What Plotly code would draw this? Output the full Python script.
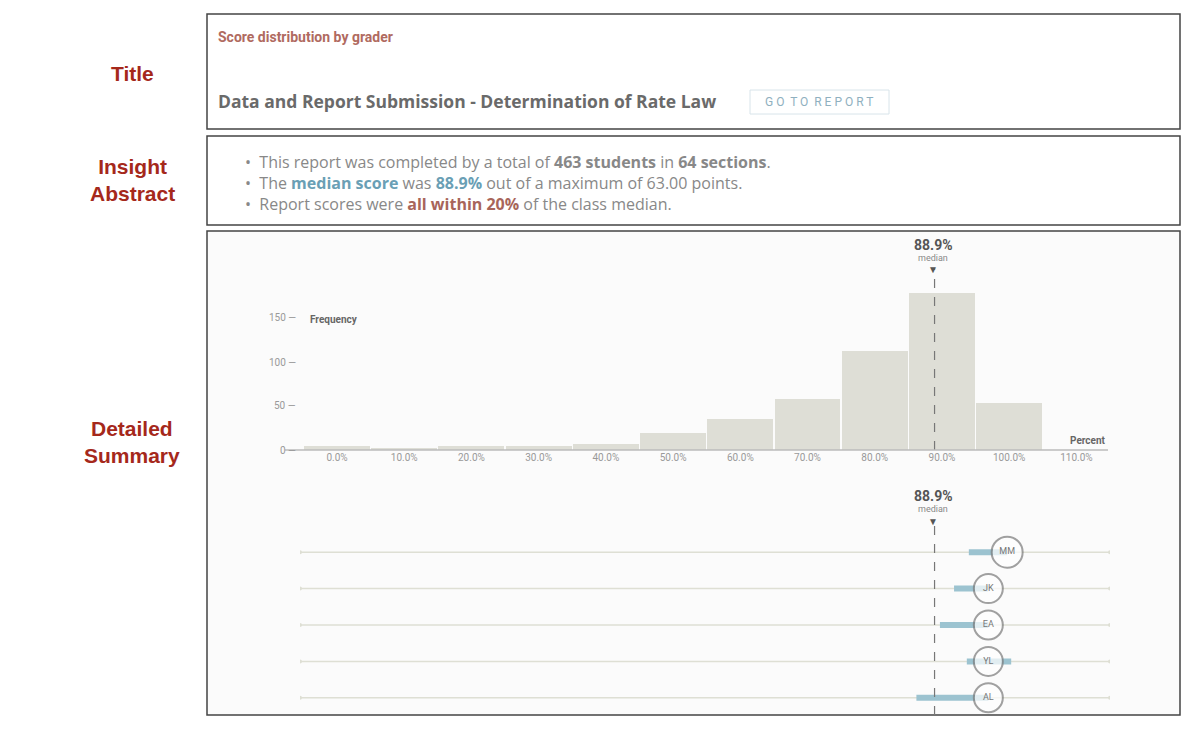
import plotly.graph_objects as go

W, H = 1202, 740
bin_centers = [0, 10, 20, 30, 40, 50, 60, 70, 80, 90, 100]
frequencies = [5, 2, 4, 4, 7, 19, 35, 58, 112, 178, 53]
tick_vals = [0, 10, 20, 30, 40, 50, 60, 70, 80, 90, 100, 110]
tick_text = ["0.0%", "10.0%", "20.0%", "30.0%", "40.0%", "50.0%", "60.0%", "70.0%", "80.0%", "90.0%", "100.0%", "110.0%"]
median = 88.9
graders = ["MM", "JK", "EA", "YL", "AL"]
grader_score = [99.7, 96.9, 96.9, 96.9, 96.9]
grader_low = [94.0, 91.8, 89.7, 93.7, 86.2]
grader_high = [99.7, 96.9, 96.9, 100.3, 96.9]
XR = [-5.5, 115]

OFF = 8
def px(x): return (x - OFF) / W
def py(y): return 1 - (y - OFF) / H

fig = go.Figure()
fig.add_trace(go.Bar(x=bin_centers, y=frequencies, width=9.8, marker=dict(color="#deded6", line=dict(width=0)),
                     xaxis="x", yaxis="y", showlegend=False, hoverinfo="skip"))
for i, g in enumerate(graders):
    fig.add_trace(go.Scatter(x=XR, y=[i, i], mode="lines+markers", line=dict(color="#dedfd4", width=1.5),
                             marker=dict(size=4, color="#dedfd4"), xaxis="x2", yaxis="y2", showlegend=False, hoverinfo="skip"))
    fig.add_trace(go.Scatter(x=[grader_low[i], grader_high[i]], y=[i, i], mode="lines", line=dict(color="#9cc3d0", width=6),
                             xaxis="x2", yaxis="y2", showlegend=False, hoverinfo="skip"))
fig.add_trace(go.Scatter(x=grader_score, y=list(range(len(graders))), mode="markers+text", text=graders,
                         marker=dict(size=[31, 29, 29, 29, 29], color="white", line=dict(color="#7a7a7a", width=2)),
                         textfont=dict(size=9, color="#777", family="Roboto"), textposition="middle center",
                         xaxis="x2", yaxis="y2", showlegend=False, hoverinfo="skip"))

shapes = []
def box(x0, y0, x1, y1, fill="white"):
    shapes.append(dict(type="rect", xref="paper", yref="paper", x0=px(x0), x1=px(x1), y0=py(y1), y1=py(y0),
                       line=dict(color="#444", width=1.5), fillcolor=fill, layer="below"))
box(207, 14, 1180, 129)
box(207, 136, 1180, 225)
box(207, 231, 1180, 715, "#fbfbfb")
shapes.append(dict(type="rect", xref="paper", yref="paper", x0=px(750), x1=px(889), y0=py(114), y1=py(90),
                   line=dict(color="#d8e4ea", width=1), fillcolor="white"))
for y0, y1 in [(268, 450), (522, 715)]:
    shapes.append(dict(type="line", xref="x", yref="paper", x0=median, x1=median, y0=py(y1), y1=py(y0),
                       line=dict(color="#777", width=1.2, dash="dash")))
shapes.append(dict(type="line", xref="paper", yref="paper", x0=px(285), x1=px(1108), y0=py(450), y1=py(450),
                   line=dict(color="#bbb", width=1.5)))

red = "#a5281b"
ann = []
def t(x, y, s, size=14, color="#888", xa="left", bold=False, fam="Open Sans"):
    ann.append(dict(x=px(x), y=py(y), xref="paper", yref="paper", text=("<b>%s</b>" % s) if bold else s,
                    showarrow=False, xanchor=xa, yanchor="middle", font=dict(size=size, color=color, family=fam)))
t(132, 74, "Title", 21, red, "center", True, "Liberation Sans")
t(132, 180, "Insight<br>Abstract", 21, red, "center", True, "Liberation Sans")
t(132, 442, "Detailed<br>Summary", 21, red, "center", True, "Liberation Sans")
t(216, 37, "Score distribution by grader", 14, "#b06a60", bold=True, fam="Roboto")
t(216, 101, "Data and Report Submission - Determination of Rate Law", 17.5, "#6a6a6a", bold=True)
t(819, 102, "G O  T O  R E P O R T", 12, "#8fb0c0", "center", fam="Roboto")
blue = "#6a9fb5"; rb = "#a8655a"
t(243, 162, "•  This report was completed by a total of <b>463 students</b> in <b>64 sections</b>.", 16)
t(243, 183, "•  The <b><span style='color:%s'>median score</span></b> was <b><span style='color:%s'>88.9%%</span></b> out of a maximum of 63.00 points." % (blue, blue), 16)
t(243, 204, "•  Report scores were <b><span style='color:%s'>all within 20%%</span></b> of the class median." % rb, 16)
for yy in (245, 496):
    t(933, yy, "<b>88.9%</b>", 14, "#555", "center", fam="Roboto")
    t(933, yy + 13, "median", 9, "#888", "center", fam="Roboto")
    t(933, yy + 25, "▼", 10, "#555", "center", fam="Roboto")
t(308, 319, "Frequency", 10, "#666", bold=True, fam="Roboto")
t(1108, 440, "Percent", 10, "#666", "right", True, fam="Roboto")
for v, yy in [(0, 450), (50, 406), (100, 362), (150, 318)]:
    t(298, yy, "%d —" % v, 10, "#999", "right", fam="Roboto")

fig.update_layout(
    width=W, height=H, margin=dict(l=0, r=0, t=0, b=0), paper_bgcolor="white", plot_bgcolor="rgba(0,0,0,0)",
    shapes=shapes, annotations=ann, bargap=0,
    xaxis=dict(domain=[px(300), px(1110)], range=XR, tickvals=tick_vals, ticktext=tick_text, showgrid=False,
               zeroline=False, showline=False, ticks="", tickfont=dict(size=10, color="#999", family="Roboto"), anchor="y"),
    yaxis=dict(domain=[py(450), py(274)], range=[0, 200], showticklabels=False, showgrid=False, zeroline=False),
    xaxis2=dict(domain=[px(300), px(1110)], range=XR, visible=False, anchor="y2"),
    yaxis2=dict(domain=[py(716), py(534)], range=[4.5, -0.5], visible=False),
)
fig.write_html("out.html")
